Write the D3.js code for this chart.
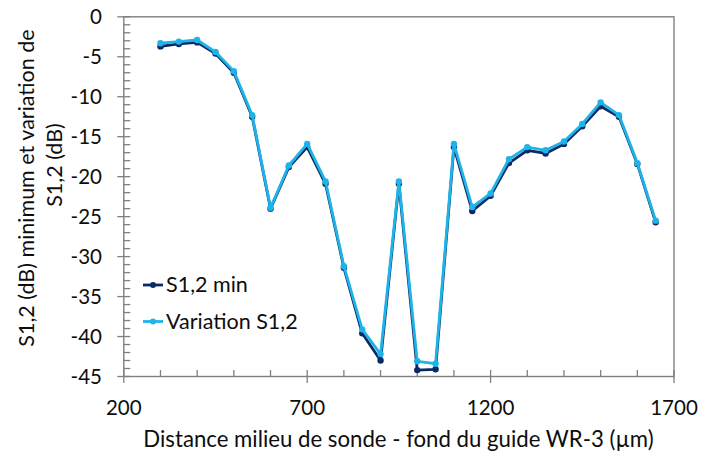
<!DOCTYPE html>
<html><head><meta charset="utf-8">
<script src="https://cdn.jsdelivr.net/npm/d3@7"></script>
<style>body{margin:0;background:#fff}svg{display:block;font-family:Lato,"Noto Sans",sans-serif}</style>
</head><body><svg id="c" width="701" height="452"></svg>
<script>
const distances = [300,350,400,450,500,550,600,650,700,750,800,850,900,950,1000,1050,1100,1150,1200,1250,1300,1350,1400,1450,1500,1550,1600,1650];
const s12Min = [-3.7,-3.4,-3.2,-4.6,-7.0,-12.5,-24.0,-18.8,-16.3,-20.9,-31.4,-39.6,-43.0,-20.9,-44.2,-44.1,-16.3,-24.3,-22.4,-18.3,-16.7,-17.1,-15.9,-13.7,-11.2,-12.5,-18.4,-25.7];
const s12Var = [-3.3,-3.1,-2.9,-4.4,-6.8,-12.3,-23.9,-18.6,-15.9,-20.6,-31.2,-39.1,-42.2,-20.6,-43.1,-43.4,-15.9,-23.8,-22.1,-17.8,-16.3,-16.7,-15.6,-13.4,-10.7,-12.3,-18.3,-25.5];
const xTicks = [200,700,1200,1700];
const yTicks = [0,-5,-10,-15,-20,-25,-30,-35,-40,-45];
const seriesNames = ["S1,2 min","Variation S1,2"];
const seriesColors = ["#0b2a63","#1eb4ea"];
const xTitle = "Distance milieu de sonde - fond du guide WR-3 (µm)";
const yTitleLines = ["S1,2 (dB) minimum et variation de","S1,2 (dB)"];

const svg = d3.select("#c");
const L=123.8, R=674, T=16.8, B=376.5;
const x = d3.scaleLinear().domain([200,1700]).range([L,R]);
const y = d3.scaleLinear().domain([-45,0]).range([B,T]);
const axisCol="#808080", txt="#0d0d0d";

// frame
svg.append("rect").attr("x",L).attr("y",T).attr("width",R-L).attr("height",B-T).attr("fill","none").attr("stroke",axisCol).attr("stroke-width",1.4);

const g = svg.append("g").attr("stroke",axisCol).attr("stroke-width",1.3);
d3.range(200,1701,100).forEach(v=>{
  const major = xTicks.includes(v);
  g.append("line").attr("x1",x(v)).attr("x2",x(v)).attr("y1",B-6.5).attr("y2",major?B+6.5:B);
});
d3.range(-45,1,1).forEach(v=>{
  const major = v%5===0;
  g.append("line").attr("y1",y(v)).attr("y2",y(v)).attr("x1",major?L-6.5:L).attr("x2",L+6.5);
});

// tick labels
svg.append("g").selectAll("text").data(xTicks).join("text")
  .attr("x",d=>x(d)).attr("y",415).attr("text-anchor","middle").attr("font-size",20.5).attr("fill",txt).text(d=>d);
svg.append("g").selectAll("text").data(yTicks).join("text")
  .attr("x",102).attr("y",d=>y(d)+7.5).attr("text-anchor","end").attr("font-size",20.5).attr("fill",txt).text(d=>d);

// titles
svg.append("text").attr("x",(145+652)/2).attr("y",446.5).attr("text-anchor","middle").attr("font-size",22.2).attr("fill",txt).text(xTitle);
svg.append("text").attr("transform","translate(33.5,188) rotate(-90)").attr("text-anchor","middle").attr("font-size",21.5).attr("fill",txt).text(yTitleLines[0]);
svg.append("text").attr("transform","translate(62,165) rotate(-90)").attr("text-anchor","middle").attr("font-size",21.5).attr("fill",txt).text(yTitleLines[1]);

// series
const series = [s12Min, s12Var];
const line = d3.line().x((d,i)=>x(distances[i])).y(d=>y(d));
series.forEach((vals,k)=>{
  svg.append("path").datum(vals).attr("d",line).attr("fill","none").attr("stroke",seriesColors[k]).attr("stroke-width",2.8).attr("stroke-linejoin","round");
  svg.append("g").selectAll("circle").data(vals).join("circle")
    .attr("cx",(d,i)=>x(distances[i])).attr("cy",d=>y(d)).attr("r",3.2).attr("fill",seriesColors[k]);
});

// legend
seriesNames.forEach((n,k)=>{
  const yy = 285 + k*36.5;
  svg.append("line").attr("x1",143).attr("x2",163).attr("y1",yy).attr("y2",yy).attr("stroke",seriesColors[k]).attr("stroke-width",2.8);
  svg.append("circle").attr("cx",153).attr("cy",yy).attr("r",3).attr("fill",seriesColors[k]);
  svg.append("text").attr("x",166).attr("y",yy+7).attr("font-size",21.5).attr("fill",txt).text(n);
});
</script></body></html>
